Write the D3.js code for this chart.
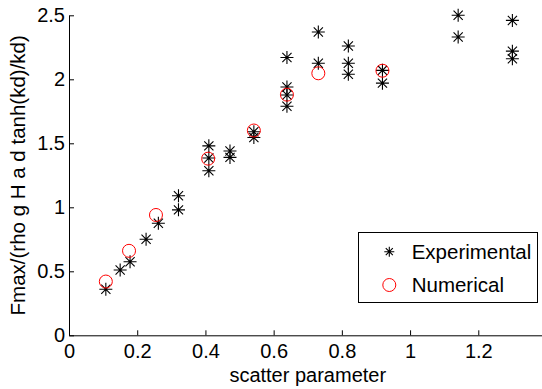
<!DOCTYPE html>
<html>
<head>
<meta charset="utf-8">
<script src="https://cdn.jsdelivr.net/npm/d3@7"></script>
<style>
  body { margin: 0; background: #fff; }
  svg { display: block; font-family: "Liberation Sans", Arial, Helvetica, sans-serif; }
</style>
</head>
<body>
<svg id="chart"></svg>
<script>
// data
var expX = [0.108, 0.150, 0.179, 0.226, 0.262, 0.321, 0.321, 0.410, 0.410, 0.410,
            0.472, 0.472, 0.542, 0.542, 0.639, 0.639, 0.639, 0.639, 0.731, 0.731,
            0.819, 0.819, 0.819, 0.919, 0.919, 1.141, 1.141, 1.300, 1.300, 1.300];
var expY = [0.36, 0.51, 0.575, 0.75, 0.875, 1.09, 0.98, 1.48, 1.385, 1.285,
            1.44, 1.39, 1.59, 1.545, 2.17, 1.94, 1.877, 1.79, 2.37, 2.125,
            2.26, 2.125, 2.04, 2.07, 1.97, 2.50, 2.33, 2.46, 2.22, 2.16];
var numX = [0.108, 0.176, 0.255, 0.408, 0.542, 0.639, 0.731, 0.919];
var numY = [0.42, 0.66, 0.94, 1.38, 1.60, 1.88, 2.047, 2.067];
var xTicks = [0, 0.2, 0.4, 0.6, 0.8, 1, 1.2];
var yTicks = [0, 0.5, 1, 1.5, 2, 2.5];
var seriesNames = ["Experimental", "Numerical"];

var width = 542, height = 389,
    fs = 20;

var svg = d3.select("#chart").attr("width", width).attr("height", height);

var x = d3.scaleLinear().domain([0, 1.4]).range([69, 546.5]),
    y = d3.scaleLinear().domain([0, 2.5]).range([335.3, 15.3]);

// matlab-ish axes, ticks pointing inward
svg.append("g")
    .attr("transform", "translate(0," + y(0) + ")")
    .call(d3.axisBottom(x).tickValues(xTicks).tickFormat(d3.format("")).tickSize(-5).tickSizeOuter(0).tickPadding(9));

svg.append("g")
    .attr("transform", "translate(" + x(0) + ",0)")
    .call(d3.axisLeft(y).tickValues(yTicks).tickFormat(d3.format("")).tickSize(-5).tickSizeOuter(0).tickPadding(4));

svg.selectAll(".tick text").attr("font-size", fs).attr("font-family", null).attr("fill", "#000");
svg.selectAll(".domain, .tick line").attr("stroke", "#000").attr("stroke-width", 1);

svg.append("text")
    .attr("x", (x.range()[0] + x.range()[1]) / 2)
    .attr("y", 381.5)
    .attr("text-anchor", "middle")
    .attr("font-size", fs)
    .text("scatter parameter");

svg.append("text")
    .attr("transform", "translate(25," + ((y(0) + y(2.5)) / 2) + ") rotate(-90)")
    .attr("text-anchor", "middle")
    .attr("font-size", 20.5)
    .text("Fmax/(rho g H a d tanh(kd)/kd)");

// asterisk marker path
function star(s) {
  var d = s * 0.707;
  return "M" + (-s) + ",0H" + s + "M0," + (-s) + "V" + s +
         "M" + (-d) + "," + (-d) + "L" + d + "," + d +
         "M" + (-d) + "," + d + "L" + d + "," + (-d);
}

var expData = expX.map(function(v, i) { return [v, expY[i]]; });
var numData = numX.map(function(v, i) { return [v, numY[i]]; });

svg.append("g").selectAll("path")
    .data(expData)
    .enter().append("path")
      .attr("transform", function(d) { return "translate(" + x(d[0]) + "," + y(d[1]) + ")"; })
      .attr("d", star(6.5))
      .attr("stroke", "#000")
      .attr("stroke-width", 1.1)
      .attr("fill", "none");

svg.append("g").selectAll("circle")
    .data(numData)
    .enter().append("circle")
      .attr("cx", function(d) { return x(d[0]); })
      .attr("cy", function(d) { return y(d[1]); })
      .attr("r", 6.5)
      .attr("stroke", "#ff0000")
      .attr("stroke-width", 1)
      .attr("fill", "none");

// legend
var lg = svg.append("g");
lg.append("rect")
    .attr("x", 358.5).attr("y", 232.5)
    .attr("width", 179).attr("height", 70)
    .attr("fill", "#fff").attr("stroke", "#000").attr("stroke-width", 1);

lg.append("path")
    .attr("transform", "translate(389.3,251.7)")
    .attr("d", star(5))
    .attr("stroke", "#000").attr("stroke-width", 1.1).attr("fill", "none");
lg.append("circle")
    .attr("cx", 389.3).attr("cy", 285).attr("r", 6.5)
    .attr("stroke", "#ff0000").attr("fill", "none");

lg.selectAll("text")
    .data(seriesNames)
    .enter().append("text")
      .attr("x", 411.7)
      .attr("y", function(d, i) { return 259 + i * 32.7; })
      .attr("font-size", 20.5)
      .text(function(d) { return d; });
</script>
</body>
</html>
